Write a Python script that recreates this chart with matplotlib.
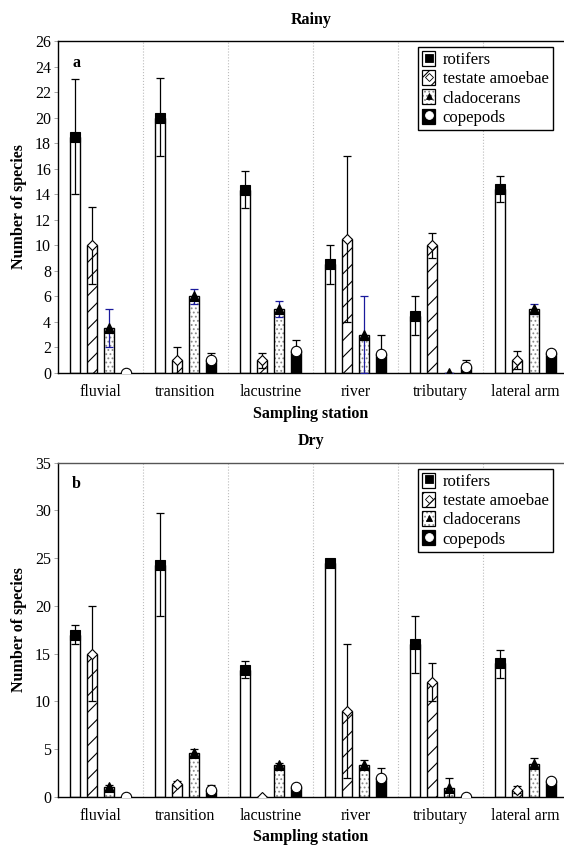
import matplotlib
matplotlib.use('Agg')
import matplotlib.pyplot as plt
import numpy as np
from matplotlib.patches import Patch
from matplotlib.lines import Line2D
from matplotlib.legend_handler import HandlerTuple

plt.rcParams['font.family'] = ['Liberation Serif', 'DejaVu Serif']
plt.rcParams['hatch.linewidth'] = 0.8

stations = ['fluvial', 'transition', 'lacustrine', 'river', 'tributary', 'lateral arm']
taxa = ['rotifers', 'testate amoebae', 'cladocerans', 'copepods']

# Rainy season (panel a): means, lower and upper error bounds
rainy_rot = [18.5, 20.0, 14.3, 8.5, 4.5, 14.4]
rainy_rot_lo = [14.0, 17.0, 12.9, 7.0, 3.0, 13.4]
rainy_rot_hi = [23.0, 23.1, 15.8, 10.0, 6.0, 15.4]
rainy_tes = [10.0, 1.0, 1.0, 10.5, 10.0, 1.0]
rainy_tes_lo = [7.0, 0.0, 0.4, 4.0, 9.0, 0.3]
rainy_tes_hi = [13.0, 2.0, 1.6, 17.0, 11.0, 1.75]
rainy_cla = [3.5, 6.0, 5.0, 3.0, 0.0, 5.0]
rainy_cla_lo = [2.0, 5.4, 4.4, 0.0, 0.0, 4.6]
rainy_cla_hi = [5.0, 6.6, 5.6, 6.0, 0.0, 5.4]
rainy_cop = [0.0, 1.0, 1.7, 1.5, 0.5, 1.6]
rainy_cop_lo = [0.0, 0.4, 0.8, 0.0, 0.0, 1.4]
rainy_cop_hi = [0.0, 1.6, 2.6, 3.0, 1.0, 1.8]

# Dry season (panel b)
dry_rot = [17.0, 24.3, 13.3, 24.5, 16.0, 14.0]
dry_rot_lo = [16.0, 19.0, 12.5, 24.2, 13.0, 12.5]
dry_rot_hi = [18.0, 29.7, 14.2, 24.8, 19.0, 15.4]
dry_tes = [15.0, 1.4, 0.0, 9.0, 12.0, 0.7]
dry_tes_lo = [10.0, 1.1, 0.0, 2.0, 10.0, 0.4]
dry_tes_hi = [20.0, 1.7, 0.0, 16.0, 14.0, 1.1]
dry_cla = [1.0, 4.6, 3.3, 3.4, 0.9, 3.5]
dry_cla_lo = [0.7, 4.3, 3.0, 3.0, 0.0, 3.0]
dry_cla_hi = [1.3, 5.0, 3.6, 3.9, 2.0, 4.1]
dry_cop = [0.0, 0.7, 1.0, 2.0, 0.0, 1.7]
dry_cop_lo = [0.0, 0.1, 0.7, 1.0, 0.0, 1.7]
dry_cop_hi = [0.0, 1.3, 1.3, 3.0, 0.0, 1.7]

bar_fc = ['white', 'white', 'white', 'black']
bar_hatch = [None, '//', '....', None]
hatch_col = ['black', 'black', '#8a8a8a', 'black']
mk = ['s', 'D', '^', 'o']
mk_fc = ['black', 'white', 'black', 'white']
mk_ms = [7, 5.5, 6.5, 7.5]
offsets = [-0.3, -0.1, 0.1, 0.3]
bw = 0.12

W, H = 564, 847
fig = plt.figure(figsize=(W / 100, H / 100), dpi=100)
ax1 = fig.add_axes([58 / W, (H - 373) / H, (W - 58) / W, 332 / H])
ax2 = fig.add_axes([58 / W, (H - 797) / H, (W - 58) / W, 334.3 / H])

FS = 11.5


def draw(ax, series, ymax, yticks, cla_color, letter):
    x = np.arange(len(stations))
    for b in [0.5, 1.5, 2.5, 3.5, 4.5]:
        ax.axvline(b, color='#bbbbbb', ls=':', lw=0.8, zorder=0)
    for i, (v, lo, hi) in enumerate(series):
        v = np.array(v); lo = np.array(lo); hi = np.array(hi)
        xi = x + offsets[i]
        # fill + hatch layer
        ax.bar(xi, v, bw, facecolor=bar_fc[i], edgecolor=hatch_col[i],
               hatch=bar_hatch[i], linewidth=0, zorder=2)
        # outline layer
        ax.bar(xi, v, bw, facecolor='none', edgecolor='black',
               linewidth=1.0, zorder=2.1)
        ec = cla_color if i == 2 else 'black'
        ax.errorbar(xi, v, yerr=[v - lo, hi - v], fmt='none', ecolor=ec,
                    elinewidth=0.9, capsize=3, capthick=0.9, zorder=3)
        ax.plot(xi, v, ls='none', marker=mk[i], ms=mk_ms[i], mfc=mk_fc[i],
                mec='black', mew=0.8, zorder=4)
    ax.set_xlim(-0.5, 5.5 - 4 / 85)
    ax.set_ylim(0, ymax)
    ax.set_yticks(yticks)
    ax.set_yticklabels([str(t) for t in yticks], fontsize=FS)
    ax.set_xticks(x)
    ax.set_xticklabels(stations, fontsize=FS)
    ax.tick_params(axis='x', length=0, pad=8)
    ax.tick_params(axis='y', length=3, color='#999999', width=0.6, pad=2)
    ax.spines['right'].set_visible(False)
    for s in ['left', 'bottom', 'top']:
        ax.spines[s].set_linewidth(1.0)
    ax.set_ylabel('Number of species', fontsize=FS, fontweight='bold', labelpad=6)
    ax.text(0.028, 0.935, letter, transform=ax.transAxes, fontsize=FS,
            fontweight='bold', va='center', ha='left')
    handles = []
    for i in range(4):
        p1 = Patch(facecolor=bar_fc[i], edgecolor=hatch_col[i], hatch=bar_hatch[i], lw=0)
        p2 = Patch(facecolor='none', edgecolor='black', lw=0.9)
        m = Line2D([], [], ls='none', marker=mk[i], ms=mk_ms[i] * 0.75,
                   mfc=mk_fc[i], mec='black' if i < 3 else 'white', mew=0.6)
        handles.append((p1, p2, m))
    leg = ax.legend(handles, taxa, handler_map={tuple: HandlerTuple(ndivide=1, pad=0)},
                    loc='upper right', bbox_to_anchor=(0.978, 0.982), fontsize=12,
                    frameon=True, fancybox=False, framealpha=1, edgecolor='black',
                    handlelength=0.8, handleheight=1.0, handletextpad=0.45,
                    labelspacing=0.12, borderpad=0.25, borderaxespad=0)
    leg.get_frame().set_linewidth(1.0)


rainy = [(rainy_rot, rainy_rot_lo, rainy_rot_hi),
         (rainy_tes, rainy_tes_lo, rainy_tes_hi),
         (rainy_cla, rainy_cla_lo, rainy_cla_hi),
         (rainy_cop, rainy_cop_lo, rainy_cop_hi)]
dry = [(dry_rot, dry_rot_lo, dry_rot_hi),
       (dry_tes, dry_tes_lo, dry_tes_hi),
       (dry_cla, dry_cla_lo, dry_cla_hi),
       (dry_cop, dry_cop_lo, dry_cop_hi)]

draw(ax1, rainy, 26, list(range(0, 27, 2)), '#1a1a9c', 'a')
draw(ax2, dry, 35, list(range(0, 36, 5)), 'black', 'b')
ax2.spines['top'].set_color('#555555')

fig.text(311 / W, 1 - 20 / H, 'Rainy', ha='center', va='center', fontsize=FS, fontweight='bold')
fig.text(311 / W, 1 - 414 / H, 'Sampling station', ha='center', va='center', fontsize=FS, fontweight='bold')
fig.text(311 / W, 1 - 441 / H, 'Dry', ha='center', va='center', fontsize=FS, fontweight='bold')
fig.text(311 / W, 1 - 837 / H, 'Sampling station', ha='center', va='center', fontsize=FS, fontweight='bold')

fig.savefig('out.png', dpi=100)
